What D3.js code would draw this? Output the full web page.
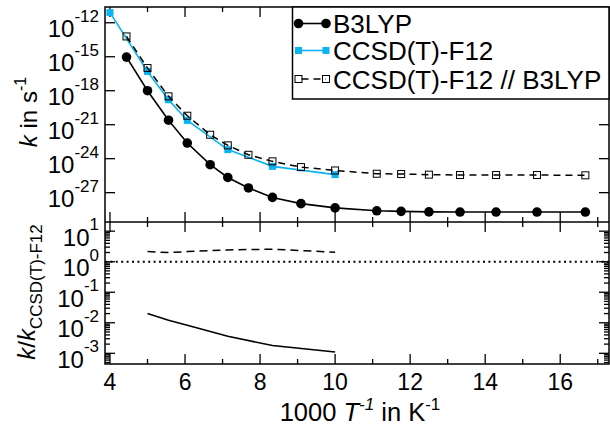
<!DOCTYPE html>
<html>
<head>
<meta charset="utf-8">
<script src="https://cdn.jsdelivr.net/npm/d3@7"></script>
<style>
  body { margin: 0; background: #fff; }
  text { font-family: "Liberation Sans", Arial, sans-serif; fill: #000; }
</style>
</head>
<body>
<div id="chart"></div>
<script>
var width = 610,
  height = 425;

// 1000/T values and rate constants (s^-1)
var xB3LYP = [4.44, 5.0, 5.56, 6.06, 6.67, 7.14, 7.69, 8.33, 9.09, 10.0, 11.11, 11.76, 12.5, 13.33, 14.29, 15.38, 16.67];
var kB3LYP = [9.3e-16, 1.0e-18, 2.5e-21, 2.4e-23, 2.95e-25, 2.2e-26, 2.6e-27, 3.8e-28, 1.07e-28, 4.5e-29, 2.5e-29, 2.24e-29, 2.0e-29, 1.95e-29, 1.95e-29, 1.95e-29, 1.95e-29];

var xCCSD = [4.0, 5.0, 5.56, 6.06, 7.14, 8.33, 10.0];
var kCCSD = [7.9e-12, 5.0e-17, 1.6e-19, 2.4e-21, 6.3e-24, 2.1e-25, 3.9e-26];

var xSP = xB3LYP;
var kSP = [6.2e-14, 1.0e-16, 3.2e-19, 6.2e-21, 1.3e-22, 1.5e-23, 2.2e-24, 5.8e-25, 1.8e-25, 9.1e-26, 4.7e-26, 4.4e-26, 3.9e-26, 3.6e-26, 3.6e-26, 3.6e-26, 3.4e-26];

// ratios to CCSD(T)-F12
var xRatio = [5.0, 5.56, 6.06, 7.14, 8.33, 10.0];
var ratioB3LYP = [0.020, 0.012, 0.0083, 0.0036, 0.0018, 0.0011];
var ratioSP = [2.14, 2.0, 2.14, 2.43, 2.57, 2.04];

var xTickVals = d3.range(4, 18);
var upperExps = [-12, -15, -18, -21, -24, -27];
var lowerExps = [1, 0, -1, -2, -3];
var legendNames = ["B3LYP", "CCSD(T)-F12", "CCSD(T)-F12 // B3LYP"];

var blue = "#0bb4f0";
// plot edges (note: "top" is taken by window.top)
var pL = 105, pR = 609, pT = 7, pM = 222, pB = 364;

var svg = d3.select("#chart").append("svg")
  .attr("width", width)
  .attr("height", height);

var x = d3.scaleLinear().domain([3.867, 17.3]).range([pL, pR]);
var yUp = d3.scaleLog().domain([Math.pow(10, -29.59), Math.pow(10, -10.61)]).range([pM, pT]);
var yLo = d3.scaleLog().domain([Math.pow(10, -3.35), Math.pow(10, 1.3)]).range([pB, pM]);

function pts(xs, ys) { return xs.map(function(d, i) { return [d, ys[i]]; }); }

// ---- ticks ----
var tk = svg.append("g").attr("stroke", "#000").attr("stroke-width", 1.3);
xTickVals.forEach(function(v) {
  var len = (v % 2 === 0) ? 10 : 5;
  var px = x(v);
  [[pT, 1], [pM, -1], [pM, 1], [pB, -1]].forEach(function(e) {
    tk.append("line").attr("x1", px).attr("x2", px)
      .attr("y1", e[0]).attr("y2", e[0] + e[1] * len);
  });
});
upperExps.forEach(function(e) {
  var py = yUp(Math.pow(10, e));
  tk.append("line").attr("x1", pL).attr("x2", pL + 10).attr("y1", py).attr("y2", py);
  tk.append("line").attr("x1", pR).attr("x2", pR - 10).attr("y1", py).attr("y2", py);
});
yLo.ticks().forEach(function(v) {
  var py = yLo(v);
  if (py < pM + 0.5 || py > pB - 0.5) return;
  var major = Math.abs(Math.log10(v) - Math.round(Math.log10(v))) < 1e-6;
  var len = major ? 10 : 5;
  tk.append("line").attr("x1", pL).attr("x2", pL + len).attr("y1", py).attr("y2", py);
  tk.append("line").attr("x1", pR).attr("x2", pR - len).attr("y1", py).attr("y2", py);
});

// frame
svg.append("rect").attr("x", pL).attr("y", pT)
  .attr("width", pR - pL).attr("height", pB - pT)
  .attr("fill", "none").attr("stroke", "#000").attr("stroke-width", 1.5);
svg.append("line").attr("x1", pL).attr("x2", pR).attr("y1", pM).attr("y2", pM)
  .attr("stroke", "#000").attr("stroke-width", 1.5);

// ---- tick labels ----
function powLabel(py, e) {
  var t = svg.append("text").attr("x", 99).attr("y", py + 14.6)
    .attr("text-anchor", "end").attr("font-size", 24);
  t.append("tspan").text("10");
  t.append("tspan").attr("dy", -15.5).attr("font-size", 17).text(e < 0 ? "-" + (-e) : e);
}
upperExps.forEach(function(e) { powLabel(yUp(Math.pow(10, e)), e); });
lowerExps.forEach(function(e) { powLabel(yLo(Math.pow(10, e)), e); });

xTickVals.filter(function(v) { return v % 2 === 0; }).forEach(function(v) {
  svg.append("text").attr("x", x(v)).attr("y", 389.5)
    .attr("text-anchor", "middle").attr("font-size", 23).text(v);
});

// axis titles
var xt = svg.append("text").attr("x", 360).attr("y", 421)
  .attr("text-anchor", "middle").attr("font-size", 25.5);
xt.append("tspan").text("1000 ");
xt.append("tspan").attr("font-style", "italic").text("T");
xt.append("tspan").attr("dy", -11).attr("font-size", 17).attr("font-style", "italic").text("-1");
xt.append("tspan").attr("dy", 11).text(" in K");
xt.append("tspan").attr("dy", -11).attr("font-size", 17).text("-1");

var yt1 = svg.append("text").attr("transform", "translate(37,112) rotate(-90)")
  .attr("text-anchor", "middle").attr("font-size", 24);
yt1.append("tspan").attr("font-style", "italic").text("k");
yt1.append("tspan").text(" in s");
yt1.append("tspan").attr("dy", -11).attr("font-size", 16).text("-1");

var yt2 = svg.append("text").attr("transform", "translate(35,292) rotate(-90)")
  .attr("text-anchor", "middle").attr("font-size", 24);
yt2.append("tspan").attr("font-style", "italic").text("k");
yt2.append("tspan").text("/");
yt2.append("tspan").attr("font-style", "italic").text("k");
yt2.append("tspan").attr("dy", 7).attr("font-size", 17).text("CCSD(T)-F12");

// ---- upper panel series ----
var lineUp = d3.line().x(function(d) { return x(d[0]); }).y(function(d) { return yUp(d[1]); });

svg.append("path").datum(pts(xB3LYP, kB3LYP)).attr("d", lineUp)
  .attr("fill", "none").attr("stroke", "#000").attr("stroke-width", 1.6);
svg.append("g").selectAll("circle").data(pts(xB3LYP, kB3LYP)).enter().append("circle")
  .attr("cx", function(d) { return x(d[0]); }).attr("cy", function(d) { return yUp(d[1]); })
  .attr("r", 4.8).attr("fill", "#000");

svg.append("path").datum(pts(xCCSD, kCCSD)).attr("d", lineUp)
  .attr("fill", "none").attr("stroke", blue).attr("stroke-width", 1.6);
svg.append("g").selectAll("rect").data(pts(xCCSD, kCCSD)).enter().append("rect")
  .attr("x", function(d) { return x(d[0]) - 3.5; }).attr("y", function(d) { return yUp(d[1]) - 3.5; })
  .attr("width", 7).attr("height", 7).attr("fill", blue);

svg.append("path").datum(pts(xSP, kSP)).attr("d", lineUp)
  .attr("fill", "none").attr("stroke", "#000").attr("stroke-width", 1.5)
  .attr("stroke-dasharray", "7,5");
svg.append("g").selectAll("rect").data(pts(xSP, kSP)).enter().append("rect")
  .attr("x", function(d) { return x(d[0]) - 3.5; }).attr("y", function(d) { return yUp(d[1]) - 3.5; })
  .attr("width", 7).attr("height", 7).attr("fill", "none")
  .attr("stroke", "#000").attr("stroke-width", 1);

// ---- lower panel ----
var lineLo = d3.line().x(function(d) { return x(d[0]); }).y(function(d) { return yLo(d[1]); });

svg.append("line").attr("x1", pL).attr("x2", pR)
  .attr("y1", yLo(1)).attr("y2", yLo(1))
  .attr("stroke", "#000").attr("stroke-width", 2).attr("stroke-dasharray", "2,3.4");
svg.append("path").datum(pts(xRatio, ratioSP)).attr("d", lineLo)
  .attr("fill", "none").attr("stroke", "#000").attr("stroke-width", 1.5)
  .attr("stroke-dasharray", "8,5");
svg.append("path").datum(pts(xRatio, ratioB3LYP)).attr("d", lineLo)
  .attr("fill", "none").attr("stroke", "#000").attr("stroke-width", 1.6);

// ---- legend ----
var lg = svg.append("g");
lg.append("rect").attr("x", 292.5).attr("y", pT).attr("width", pR - 292.5).attr("height", 92)
  .attr("fill", "#fff").attr("stroke", "#000").attr("stroke-width", 1.5);
var rowY = [23.5, 50.5, 79];
var x0 = 298.5, x1 = 326;
lg.append("line").attr("x1", x0).attr("x2", x1).attr("y1", rowY[0]).attr("y2", rowY[0])
  .attr("stroke", "#000").attr("stroke-width", 1.6);
[x0, x1].forEach(function(px) {
  lg.append("circle").attr("cx", px).attr("cy", rowY[0]).attr("r", 4.8).attr("fill", "#000");
});
lg.append("line").attr("x1", x0).attr("x2", x1).attr("y1", rowY[1]).attr("y2", rowY[1])
  .attr("stroke", blue).attr("stroke-width", 1.6);
[x0, x1].forEach(function(px) {
  lg.append("rect").attr("x", px - 3.5).attr("y", rowY[1] - 3.5).attr("width", 7).attr("height", 7).attr("fill", blue);
});
lg.append("line").attr("x1", x0).attr("x2", x1).attr("y1", rowY[2]).attr("y2", rowY[2])
  .attr("stroke", "#000").attr("stroke-width", 1.5).attr("stroke-dasharray", "7,5")
  .attr("stroke-dashoffset", -3);
[x0, x1].forEach(function(px) {
  lg.append("rect").attr("x", px - 3.5).attr("y", rowY[2] - 3.5).attr("width", 7).attr("height", 7)
    .attr("fill", "none").attr("stroke", "#000").attr("stroke-width", 1);
});
legendNames.forEach(function(n, i) {
  lg.append("text").attr("x", 333).attr("y", rowY[i] + 9.5).attr("font-size", 26).text(n);
});
</script>
</body>
</html>
